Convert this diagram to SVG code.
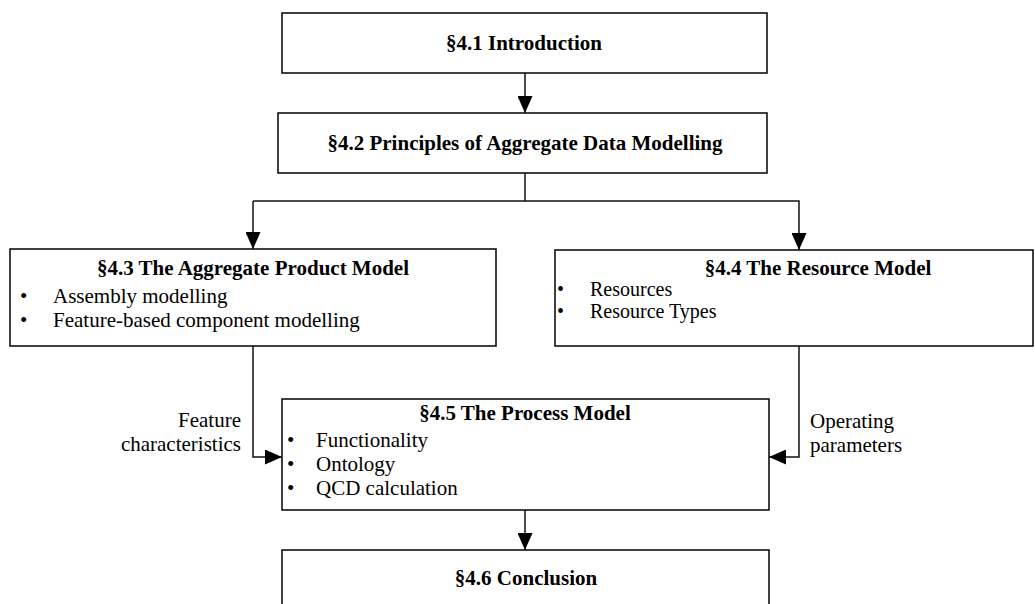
<svg xmlns="http://www.w3.org/2000/svg" width="1035" height="604" viewBox="0 0 1035 604">
<defs>
<marker id="ah" markerUnits="userSpaceOnUse" markerWidth="17" markerHeight="15" refX="17" refY="7.5" orient="auto">
<path d="M0,0 L17,7.5 L0,15 z" fill="#000"/>
</marker>
<style>
.box{fill:#fff;stroke:#111;stroke-width:1.6}
.t{font-family:"Liberation Serif","Times New Roman",serif;font-size:21px;fill:#000}
.s{font-size:20px}
.b{font-weight:bold}
.c{text-anchor:middle}
.r{text-anchor:end}
.ln{fill:none;stroke:#111;stroke-width:1.5}
.arr{fill:none;stroke:#111;stroke-width:1.5;marker-end:url(#ah)}
</style>
</defs>
<rect width="1035" height="604" fill="#fff"/>

<g id="connectors">
<line class="arr" x1="525" y1="73" x2="525" y2="113"/>
<polyline class="ln" points="525,173 525,201"/>
<polyline class="arr" points="253,201 253,249"/>
<polyline class="arr" points="253,201 799,201 799,250"/>
<polyline class="arr" points="253,346 253,457 282,457"/>
<polyline class="arr" points="799,346 799,457 769,457"/>
<line class="arr" x1="525" y1="510" x2="525" y2="550"/>
<text class="t r" x="241" y="427">Feature</text>
<text class="t r" x="241" y="451">characteristics</text>
<text class="t" x="810" y="428">Operating</text>
<text class="t" x="810" y="452">parameters</text>
</g>

<g id="n41">
<rect class="box" x="282" y="13" width="485" height="60"/>
<text class="t b c" x="524" y="50">§4.1 Introduction</text>
</g>

<g id="n42">
<rect class="box" x="278" y="113" width="489" height="60"/>
<text class="t b c" x="525" y="150">§4.2 Principles of Aggregate Data Modelling</text>
</g>

<g id="n43">
<rect class="box" x="10" y="249" width="486" height="97"/>
<text class="t b c" x="253" y="275">§4.3 The Aggregate Product Model</text>
<text class="t" x="20" y="303">•</text>
<text class="t" x="53" y="303">Assembly modelling</text>
<text class="t" x="20" y="327">•</text>
<text class="t" x="53" y="327">Feature-based component modelling</text>
</g>

<g id="n44">
<rect class="box" x="555" y="250" width="478" height="96"/>
<text class="t b c" x="818" y="275">§4.4 The Resource Model</text>
<text class="t s" x="557" y="296">•</text>
<text class="t s" x="590" y="296">Resources</text>
<text class="t s" x="557" y="318">•</text>
<text class="t s" x="590" y="318">Resource Types</text>
</g>

<g id="n45">
<rect class="box" x="282" y="399" width="487" height="111"/>
<text class="t b c" x="525" y="420">§4.5 The Process Model</text>
<text class="t" x="287" y="447">•</text>
<text class="t" x="316" y="447">Functionality</text>
<text class="t" x="287" y="471">•</text>
<text class="t" x="316" y="471">Ontology</text>
<text class="t" x="287" y="495">•</text>
<text class="t" x="316" y="495">QCD calculation</text>
</g>

<g id="n46">
<rect class="box" x="282" y="550" width="487" height="70"/>
<text class="t b c" x="526" y="585">§4.6 Conclusion</text>
</g>
</svg>
